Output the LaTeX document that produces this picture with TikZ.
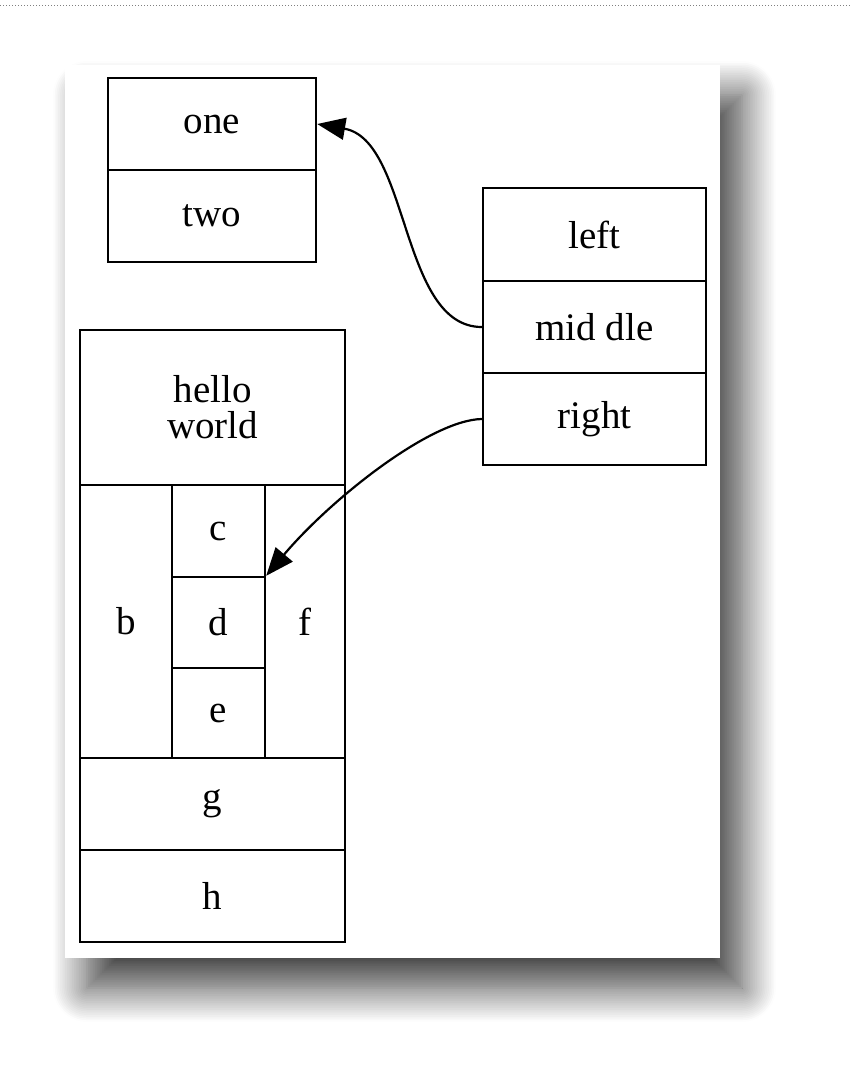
\documentclass[tikz,border=0pt]{standalone}
\usepackage{fontspec}
\setmainfont{Liberation Serif}
\usetikzlibrary{arrows.meta,shadows.blur}

\begin{document}
\begin{tikzpicture}[x=1pt,y=-1pt]
 \tikzset{cell/.style={rectangle, draw, line width=2.4pt, inner sep=0pt,
 		font=\fontsize{39}{42}\selectfont, text centered}, }
 \tikzset{linea/.style={-{Triangle[length=28pt,width=22pt,fill=black]}, line width=2.2pt},}
 \useasboundingbox (0,0) rectangle (850,1088);
 \draw[gray, dotted, line width=1pt] (0,5) -- (850,5);
 \fill[white, blur shadow={shadow xshift=22pt, shadow yshift=-30pt,
 	shadow blur steps=20, shadow blur radius=34pt, shadow opacity=75}]
 	(65,65) rectangle (720,958);
 % one / two
 \node[cell, minimum width=208pt, minimum height=92pt] (one) at (212,124) {one};
 \node[cell, minimum width=208pt, minimum height=92pt] (two) at (212,216) {two};
 % left / middle / right
 \node[cell, minimum width=223pt, minimum height=93pt] (left) at (594.5,234.5) {left};
 \node[cell, minimum width=223pt, minimum height=92pt] (middle) at (594.5,327) {mid dle};
 \node[cell, minimum width=223pt, minimum height=92pt] (right) at (594.5,419) {right};
 % hello world
 \node[cell, minimum width=265pt, minimum height=155pt, align=center] (hello) at (212.5,407.5) {hello\\[-6pt]world};
 \node[cell, minimum width=92pt, minimum height=273pt] (b) at (126,621.5) {b};
 \node[cell, minimum width=93pt, minimum height=92pt] (c) at (218.5,531) {c};
 \node[cell, minimum width=93pt, minimum height=91pt] (d) at (218.5,622.5) {d};
 \node[cell, minimum width=93pt, minimum height=90pt] (e) at (218.5,713) {e};
 \node[cell, minimum width=80pt, minimum height=273pt] (f) at (305,621.5) {f};
 \node[cell, minimum width=265pt, minimum height=92pt] (g) at (212.5,804) {g};
 \node[cell, minimum width=265pt, minimum height=92pt] (h) at (212.5,896) {h};
 % edges
 \draw[linea] (middle.west) .. controls (400,327) and (410,140) .. (one.east);
 \draw[linea] (right.west) .. controls (430,420) and (330,500) .. (d.north east);
\end{tikzpicture}
\end{document}
